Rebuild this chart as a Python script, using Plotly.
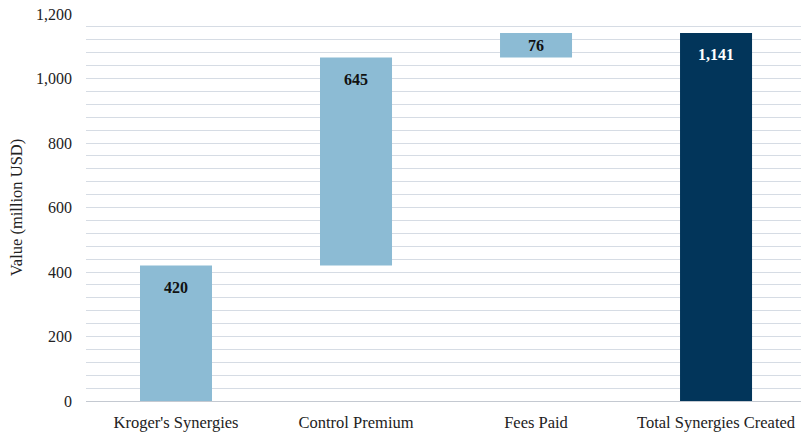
import plotly.graph_objects as go

categories = ["Kroger's Synergies", "Control Premium", "Fees Paid", "Total Synergies Created"]
values = [420, 645, 76, 1141]
measures = ["relative", "relative", "relative", "total"]
value_labels = ["420", "645", "76", "1,141"]
label_colors = ["#111111", "#111111", "#111111", "#FFFFFF"]

LIGHT = "#8CBBD4"
DARK = "#02355A"
GRID = "#D6DCE4"
FONT = "Liberation Serif"

fig = go.Figure(go.Waterfall(
    x=categories,
    y=values,
    measure=measures,
    increasing=dict(marker=dict(color=LIGHT)),
    decreasing=dict(marker=dict(color=LIGHT)),
    totals=dict(marker=dict(color=DARK)),
    connector=dict(visible=False),
    width=0.4,
    hoverinfo="skip",
))

# value labels placed just inside the top of each bar
running = 0
for cat, val, meas, txt, col in zip(categories, values, measures, value_labels, label_colors):
    if meas == "total":
        base, top = 0, val
        running = val
    else:
        base, top = running, running + val
        running = top
    small = (top - base) < 120
    fig.add_annotation(
        x=cat,
        y=(base + top) / 2 if small else top,
        yanchor="middle" if small else "top",
        yshift=0 if small else -11,
        text=f"<b>{txt}</b>",
        showarrow=False,
        font=dict(family=FONT, size=16, color=col),
    )

fig.update_layout(
    width=801,
    height=433,
    margin=dict(l=86, r=0, t=14, b=32),
    paper_bgcolor="white",
    plot_bgcolor="white",
    font=dict(family=FONT, size=16, color="#222222"),
    showlegend=False,
    xaxis=dict(
        range=[-0.5, 3.472],
        showgrid=False,
        showline=False,
        ticks="",
        ticklabelstandoff=9,
        tickfont=dict(family=FONT, size=16.5, color="#222222"),
    ),
    yaxis=dict(
        range=[0, 1200],
        dtick=200,
        tickformat=",",
        showgrid=True,
        gridcolor=GRID,
        gridwidth=1,
        minor=dict(dtick=40, showgrid=True, gridcolor=GRID, gridwidth=1),
        zeroline=True,
        zerolinecolor="#C4C9D1",
        zerolinewidth=1,
        showline=False,
        ticks="",
        ticklabelstandoff=13,
        tickfont=dict(family=FONT, size=16, color="#222222"),
        title=dict(text="Value (million USD)", font=dict(family=FONT, size=16.5, color="#222222"), standoff=9),
    ),
)

fig.write_html("out.html")
